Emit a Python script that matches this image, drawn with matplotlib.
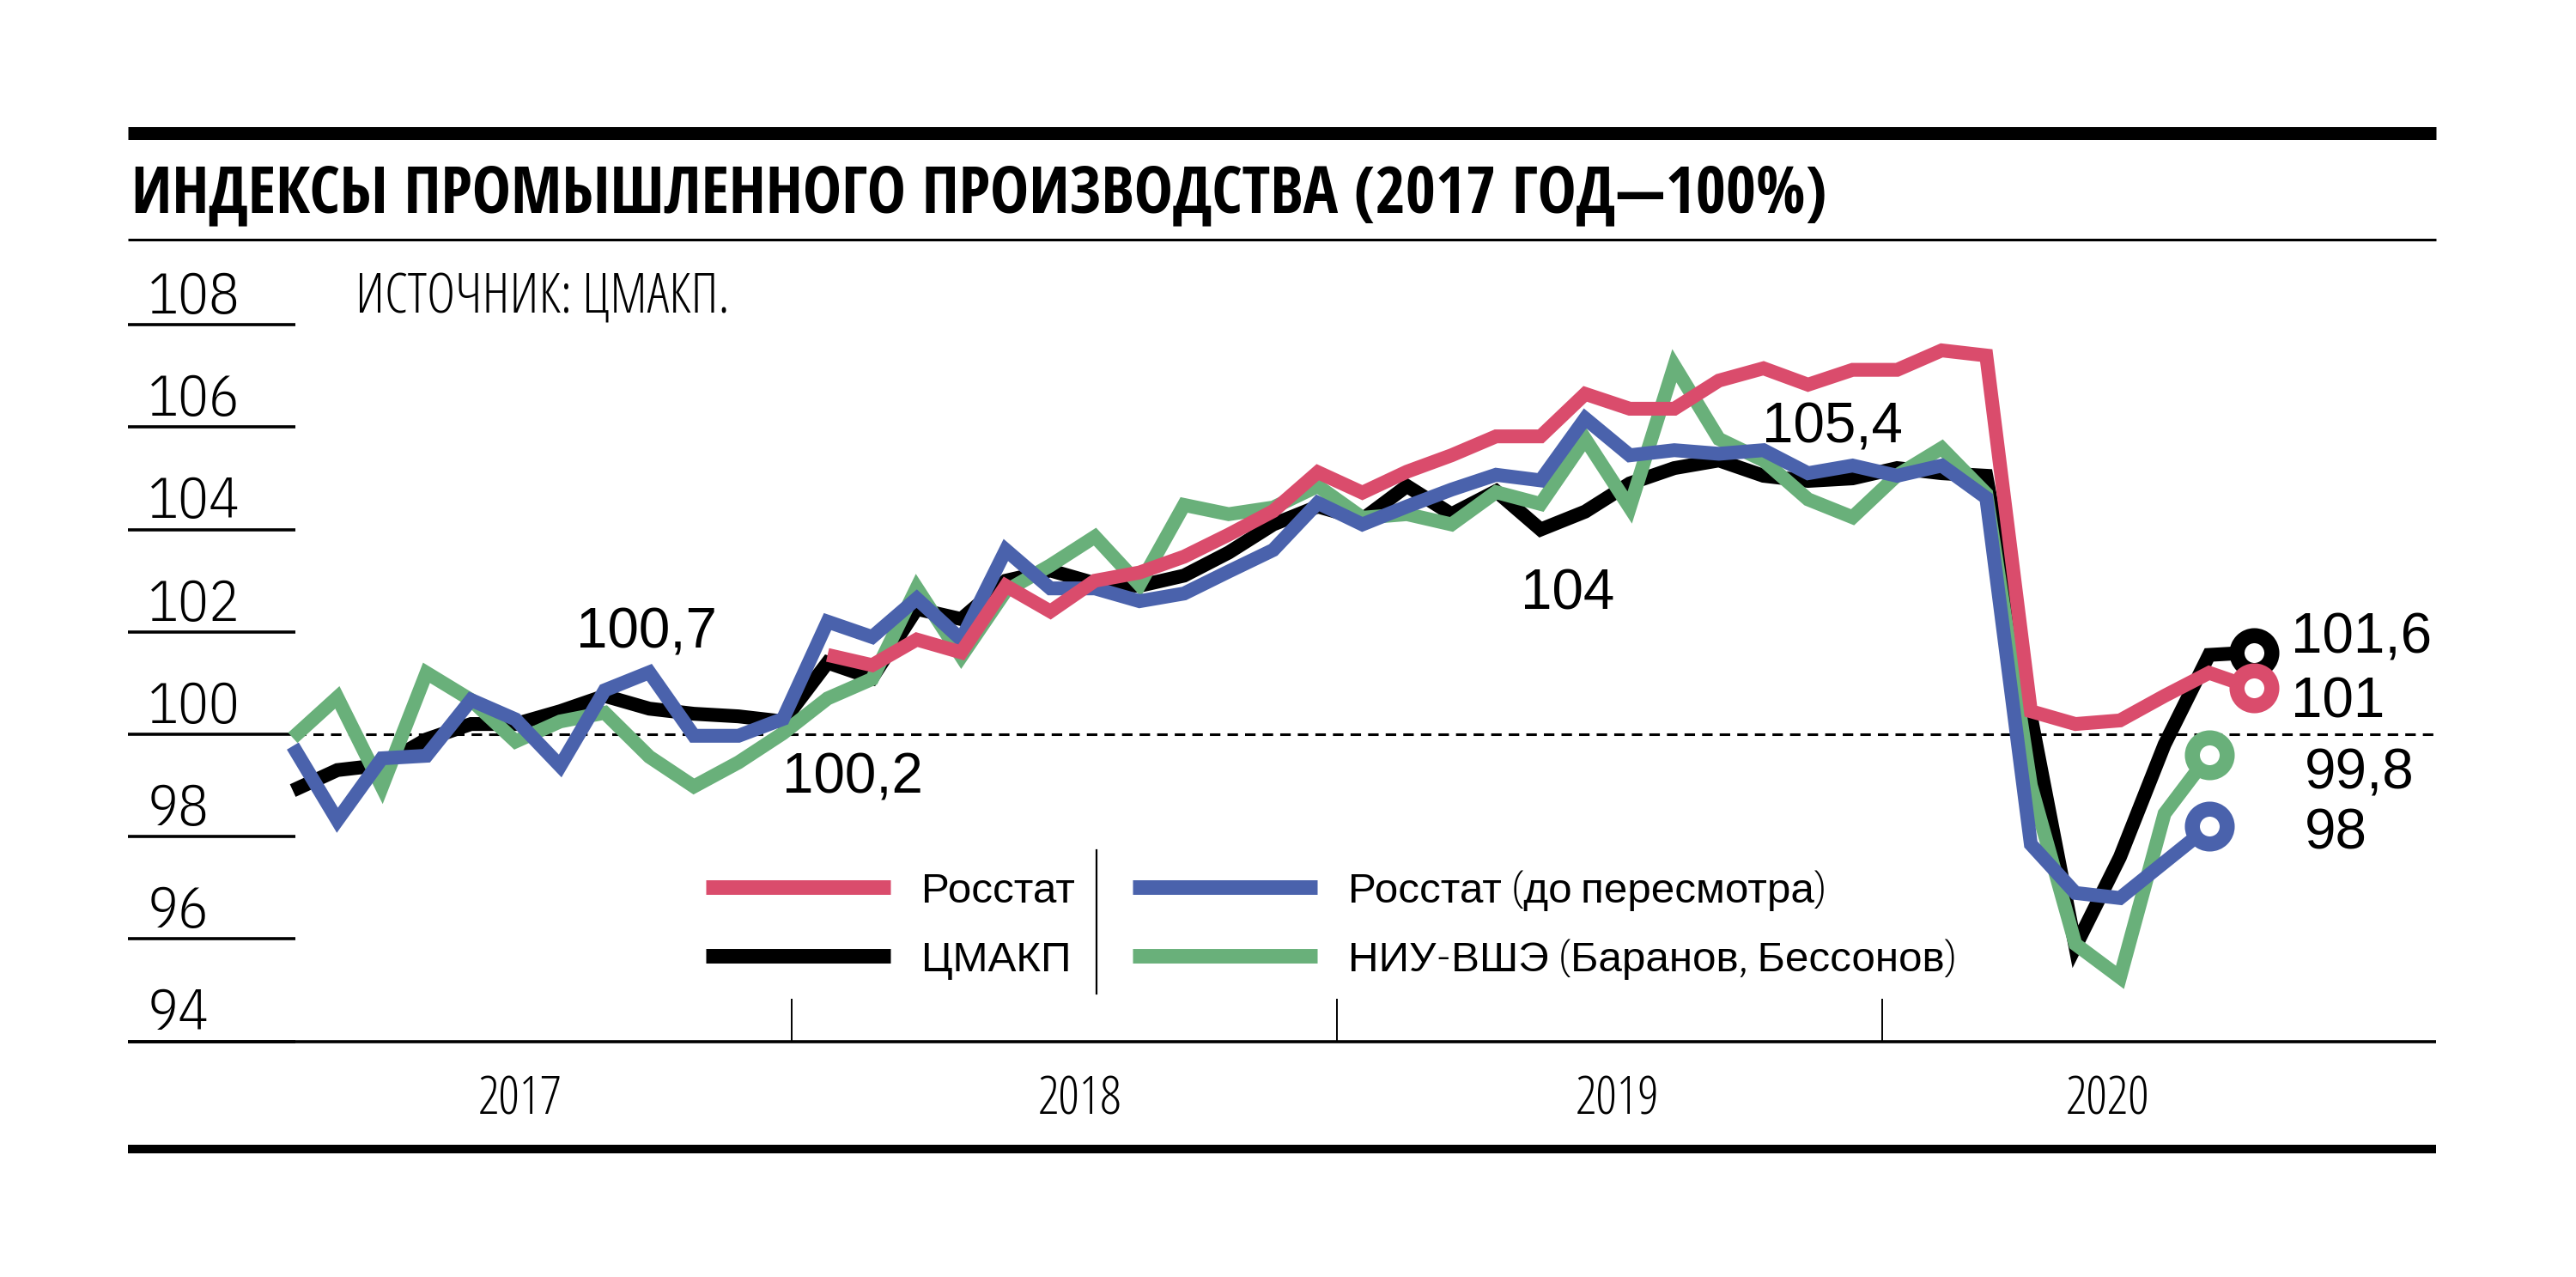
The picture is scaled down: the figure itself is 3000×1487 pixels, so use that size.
import numpy as np
import matplotlib
matplotlib.use("Agg")
import matplotlib.pyplot as plt
from matplotlib.lines import Line2D

# monthly indices, Jan 2017 = 0
cmakp = [98.9, 99.3, 99.4, 99.9, 100.2, 100.2, 100.45, 100.75, 100.5, 100.4, 100.35, 100.25,
         101.4, 101.1, 102.45, 102.25, 103.0, 103.2, 102.95, 102.9, 103.1, 103.55, 104.1, 104.45,
         104.2, 104.85, 104.3, 104.75, 104.0, 104.35, 104.9, 105.2, 105.35, 105.05, 104.95, 105.0,
         105.2, 105.1, 105.05, 100.35, 95.85, 97.6, 99.8, 101.55, 101.6]
rosstat_old = [99.77, 98.32, 99.53, 99.58, 100.67, 100.29, 99.38, 100.86, 101.21, 99.97, 99.97, 100.3,
               102.2, 101.9, 102.65, 101.85, 103.6, 102.85, 102.85, 102.6, 102.75, 103.18, 103.6, 104.52,
               104.1, 104.45, 104.78, 105.07, 104.96, 106.17, 105.45, 105.55, 105.48, 105.55, 105.1, 105.25,
               105.05, 105.25, 104.62, 97.85, 96.9, 96.8, 97.5, 98.2]
hse = [99.93, 100.72, 98.97, 101.2, 100.67, 99.86, 100.25, 100.42, 99.56, 98.98, 99.45, 100.02,
       100.7, 101.08, 102.86, 101.52, 102.8, 103.3, 103.86, 102.92, 104.48, 104.3, 104.43, 104.85,
       104.23, 104.3, 104.1, 104.73, 104.5, 105.77, 104.43, 107.2, 105.77, 105.35, 104.59, 104.24,
       105.06, 105.59, 104.7, 99.0, 95.9, 95.25, 98.45, 99.6]
rosstat = [101.55, 101.35, 101.85, 101.6, 102.9, 102.4, 103.0, 103.16, 103.47, 103.9, 104.36, 105.12,
           104.72, 105.13, 105.45, 105.82, 105.82, 106.65, 106.36, 106.36, 106.91, 107.15, 106.83, 107.12,
           107.12, 107.5, 107.4, 100.45, 100.2, 100.27, 100.75, 101.2, 100.9]
rosstat_start = 12

years = ["2017", "2018", "2019", "2020"]
year_label_x = [5.1, 17.65, 29.73, 40.73]
year_sep_x = [11.19, 23.43, 35.66]
yticks = [94, 96, 98, 100, 102, 104, 106, 108]

# value callouts: (text, x, baseline y)
callouts = [("100,7", 6.36, 101.68), ("100,2", 10.98, 98.85), ("104", 27.55, 102.44),
            ("105,4", 32.97, 105.7), ("101,6", 44.84, 101.59), ("101", 44.84, 100.32),
            ("99,8", 45.14, 98.94), ("98", 45.14, 97.76)]

RED, BLUE, GREEN, BLACK = "#DA4C6C", "#4A62AC", "#69B07A", "#000000"
PLEX = ["IBM Plex Sans Condensed", "Liberation Sans", "DejaVu Sans"]
COND = ["Open Sans", "DejaVu Sans"]
COND_BOLD = ["Open Sans Condensed", "IBM Plex Sans Condensed", "DejaVu Sans"]
REGULAR = ["Liberation Sans", "DejaVu Sans"]
cond_kw = dict(family=COND, fontstretch="condensed", fontweight=300)

W, H = 3000, 1487
fx = lambda px: px / W
fy = lambda py: 1 - py / H

fig = plt.figure(figsize=(15, 7.435), dpi=200)
ax = fig.add_axes([fx(149), fy(1212.6), (2837 - 149) / W, (1212.6 - 378.2) / H])
ax.set_xlim(-3.699, 48.092)
ax.set_ylim(94, 108)
ax.axis("off")

# y "grid": short lines under the labels, dashed 100 line, bottom axis
for v in yticks:
    ax.plot([-3.699, 0.06], [v, v], color="black", lw=1.3, solid_capstyle="butt",
            clip_on=False, zorder=1)
    ax.text(-3.26, v + 0.22, str(v), family=PLEX, fontweight=300, fontsize=24,
            ha="left", va="baseline")
ax.plot([0.06, 48.092], [100, 100], color="black", lw=1.1, ls=(0, (4, 2.7)), zorder=1)
ax.plot([-3.699, 48.092], [94, 94], color="black", lw=1.3, solid_capstyle="butt",
        clip_on=False, zorder=1)
ax.vlines(year_sep_x, 94, 94.84, color="black", lw=0.7)
for x, lab in zip(year_label_x, years):
    ax.text(x, 92.58, lab, fontsize=22, ha="center", va="baseline", **cond_kw)

# series
line_kw = dict(lw=5.8, solid_capstyle="butt", solid_joinstyle="miter")
mk_kw = dict(marker="o", ms=14.6, mew=6.3, mfc="white", ls="none", clip_on=False)
series = [(cmakp, 0, BLACK, 2), (hse, 0, GREEN, 3), (rosstat_old, 0, BLUE, 4),
          (rosstat, rosstat_start, RED, 5)]
for vals, start, col, z in series:
    x = np.arange(start, start + len(vals))
    ax.plot(x, vals, color=col, zorder=z, **line_kw)
    ax.plot(x[-1], vals[-1], mec=col, zorder=z + 0.5, **mk_kw)

for txt, x, y in callouts:
    ax.text(x, y, txt, family=REGULAR, fontsize=23.6, ha="left", va="baseline", zorder=6)

# frame: thick top bar, title, thin rule, bottom bar
fig.add_artist(Line2D([fx(149), fx(2837)], [fy(155), fy(155)], color="black", lw=5.4,
                      solid_capstyle="butt"))
fig.add_artist(Line2D([fx(149), fx(2837)], [fy(278.5), fy(278.5)], color="black", lw=1.1,
                      solid_capstyle="butt"))
fig.add_artist(Line2D([fx(149), fx(2837)], [fy(1338), fy(1338)], color="black", lw=3.6,
                      solid_capstyle="butt"))
fig.text(fx(153), fy(247), "ИНДЕКСЫ ПРОМЫШЛЕННОГО ПРОИЗВОДСТВА (2017 ГОД—100%)",
         family=COND_BOLD, fontweight="bold", fontsize=27.3, ha="left", va="baseline")
fig.text(fx(414), fy(365), "ИСТОЧНИК: ЦМАКП.", fontsize=23, ha="left",
         va="baseline", **cond_kw)

# legend, drawn by hand in two columns with a divider
legend_items = [("Росстат", RED, 822, 1033), ("ЦМАКП", BLACK, 822, 1113),
                ("Росстат (до пересмотра)", BLUE, 1319, 1033),
                ("НИУ-ВШЭ (Баранов, Бессонов)", GREEN, 1319, 1113)]
for lab, col, x0, yc in legend_items:
    fig.add_artist(Line2D([fx(x0), fx(x0 + 215)], [fy(yc), fy(yc)], color=col, lw=6.1,
                          solid_capstyle="butt"))
    fig.text(fx(x0 + 251), fy(yc + 18), lab, family=PLEX, fontweight=300, fontsize=17.8,
             ha="left", va="baseline")
fig.add_artist(Line2D([fx(1277), fx(1277)], [fy(990), fy(1157)], color="black", lw=0.8))

fig.savefig("out.png", dpi=200, facecolor="white")
